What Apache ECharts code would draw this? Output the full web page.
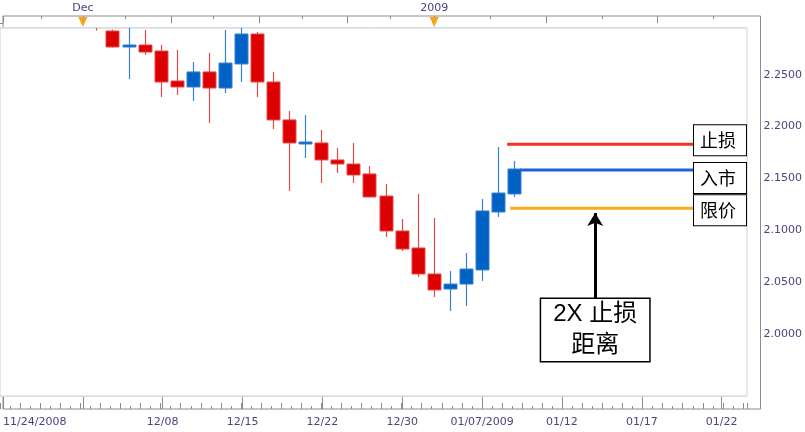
<!DOCTYPE html>
<html><head><meta charset="utf-8">
<script src="https://cdn.jsdelivr.net/npm/echarts@6/dist/echarts.min.js"></script>
<style>html,body{margin:0;padding:0;background:#fff}#c{width:805px;height:432px}</style>
</head><body><div id="c"></div>
<script>
// ---- data (slot = trading-day position on the time axis) ----
const candleSlots = [6,7,8,9,10,11,12,13,14,15,16,17,18,19,20,21,22,23,24,25,26,27,28,29,30,31,32];
const opens  = [2.3180,2.2921,2.2774,2.2786,2.2728,2.2439,2.2381,2.2526,2.2371,2.2603,2.2892,2.2429,2.2063,2.1838,2.1841,2.1677,2.1638,2.1542,2.1329,2.0992,2.0828,2.0577,2.0432,2.0480,2.0616,2.1175,2.1349];
const closes = [2.3020,2.2767,2.2779,2.2718,2.2429,2.2381,2.2526,2.2371,2.2612,2.2892,2.2429,2.2063,2.1841,2.1843,2.1677,2.1638,2.1532,2.1320,2.0992,2.0818,2.0577,2.0423,2.0480,2.0625,2.1185,2.1358,2.1590];
const lows   = [2.2925,2.2762,2.2458,2.2690,2.2284,2.2304,2.2246,2.2034,2.2323,2.2429,2.2284,2.1976,2.1378,2.1696,2.1455,2.1551,2.1455,2.1315,2.0934,2.0799,2.0548,2.0355,2.0220,2.0268,2.0509,2.1127,2.1320];
const highs  = [2.3250,2.2935,2.3000,2.2931,2.2786,2.2738,2.2622,2.2709,2.2931,2.3000,2.2911,2.2526,2.2149,2.2111,2.1966,2.1792,2.1841,2.1619,2.1445,2.1107,2.1349,2.1117,2.0606,2.0779,2.1300,2.1802,2.1667];

const bottomTickSlots  = [0,5,10,15,20,25,30,35,40,45];
const bottomTickLabels = ['11/24/2008','','12/08','12/15','12/22','12/30','01/07/2009','01/12','01/17','01/22'];
const topLabelSlots = [5,27];
const topLabels = ['Dec','2009'];
const topLongTickSlots  = [0,5.04,10.52,16.06,21.54,27.02,34.0,40.97];
const topShortTickSlots = [2.55,7.78,13.26,18.8,24.28,30.5,37.48,44.4];
const priceLabelMin = 2.00, priceLabelMax = 2.25;

const levelNames = ['止损','入市','限价'];
const levelValues = [2.1828,2.1580,2.1211];
const levelStartSlots = [31.57,32.38,31.76];
const levelEndSlot = 43.2;

const annotationText = '2X 止损\n距离';
const arrowSlot = 37.05;
const arrowTip = 2.1165;
const arrowBase = 2.0336;
const annotationCenter = 2.0037;

// ---- layout / style ----
const W = 805, H = 432;
const plot = {left:0, right:58, top:28, bottom:36};
const frame = {left:0, right:43, top:16, bottom:23};
const yMin = 1.94, yMax = 2.295;
const slotMax = 46.5;
const pxPerSlot = (W - plot.left - plot.right) / slotMax;
const pxPerUnit = (H - plot.top - plot.bottom) / (yMax - yMin);
const frameSlotMax = (W - frame.left - frame.right) / pxPerSlot;
const frameYMax = yMax + (plot.top - frame.top) / pxPerUnit;
const frameYMin = yMin - (plot.bottom - frame.bottom) / pxPerUnit;
const markerValue = frameYMax - 6 / pxPerUnit;
// fine-tick grid: same scale as the plot, range extended to round values
const fineYMin = 1.93, fineYMax = 2.305;
const fine = {left:plot.left, right:plot.right,
  top: plot.top - (fineYMax - yMax) * pxPerUnit,
  bottom: plot.bottom - (yMin - fineYMin) * pxPerUnit};

const labelColor = '#46467e';
const axisFont = 'DejaVu Sans, Verdana, sans-serif';
const tickColor = '#8c8c8c';
const gridLine = {show:true, lineStyle:{color:'#e6e6e6', width:2}};
const levelColors = ['#ee3322','#1f60d6','#ffa620'];
const levelOffsets = [-4, 8, 2];
const upFill = '#0062c4', upLine = '#3580d2';
const downFill = '#dd0000', downLine = '#e64848';
const candleWidth = 13;

function renderCandle(params, api) {
  const x = api.value(0), o = api.value(1), c = api.value(2), l = api.value(3), h = api.value(4);
  const pO = api.coord([x, o]), pC = api.coord([x, c]);
  const pL = api.coord([x, l]), pH = api.coord([x, h]);
  const up = c >= o;
  const cx = Math.round(pO[0]) + 0.5;
  const top = Math.min(pO[1], pC[1]), bot = Math.max(pO[1], pC[1]);
  const hgt = Math.max(bot - top, 2);
  const fill = up ? upFill : downFill, line = up ? upLine : downLine;
  return {type:'group', children:[
    {type:'line', shape:{x1:cx, y1:pH[1], x2:cx, y2:pL[1]}, style:{stroke:line, lineWidth:1.2}},
    {type:'rect', shape:{x:Math.round(cx - candleWidth/2), y:(top + bot)/2 - hgt/2, width:candleWidth, height:hgt},
     style:{fill:fill, stroke:line, lineWidth:1}}
  ]};
}

const tickStyle = {lineStyle:{color:tickColor}};
const noAxisParts = {axisLine:{show:false}, axisLabel:{show:false}, axisTick:{show:false}, splitLine:{show:false}};
const chart = echarts.init(document.getElementById('c'), null, {renderer:'canvas'});
const option = {
  animation: false,
  backgroundColor: '#fff',
  grid: [
    Object.assign({show:true, backgroundColor:'#fff', borderColor:'#c9d1de', borderWidth:1, z:1}, plot),
    Object.assign({show:true, backgroundColor:'transparent', borderColor:tickColor, borderWidth:1, z:0}, frame),
    Object.assign({show:false}, fine)
  ],
  xAxis: [
    // 0: plot top: vertical grid lines every 5 slots + short top ticks
    Object.assign({}, noAxisParts, {gridIndex:0, type:'value', min:0, max:slotMax, interval:5, position:'top', offset:plot.top - frame.top,
      axisTick:Object.assign({show:true, inside:true, length:3, customValues:topShortTickSlots}, tickStyle),
      splitLine:gridLine}),
    // 1: plot bottom: short ticks
    Object.assign({}, noAxisParts, {gridIndex:0, type:'value', min:0, max:slotMax, interval:0.625, position:'bottom', offset:plot.bottom - frame.bottom,
      axisTick:Object.assign({show:true, inside:true, length:3}, tickStyle)}),
    // 2: frame bottom: major ticks + date labels
    {gridIndex:1, type:'value', min:0, max:frameSlotMax, interval:5, position:'bottom',
     axisLine:{show:false},
     axisTick:Object.assign({show:true, inside:true, length:12}, tickStyle),
     axisLabel:{margin:8, color:labelColor, fontSize:11, fontFamily:axisFont, alignMinLabel:'left',
       formatter: v => { const i = bottomTickSlots.indexOf(v); return i < 0 ? '' : bottomTickLabels[i]; }},
     splitLine:{show:false}},
    // 3: frame top: long ticks + Dec / 2009
    {gridIndex:1, type:'value', min:0, max:frameSlotMax, position:'top',
     axisLine:{show:false},
     axisTick:Object.assign({show:true, inside:true, length:7, customValues:topLongTickSlots}, tickStyle),
     axisLabel:{customValues:topLabelSlots, margin:2, color:labelColor, fontSize:11, fontFamily:axisFont,
       formatter: v => { const i = topLabelSlots.indexOf(v); return i < 0 ? '' : topLabels[i]; }},
     splitLine:{show:false}},
    // 4: fine grid bottom: mid-length ticks
    Object.assign({}, noAxisParts, {gridIndex:2, type:'value', min:0, max:slotMax, interval:1.25, position:'bottom',
      offset: fine.bottom - frame.bottom,
      axisTick:Object.assign({show:true, inside:true, length:6}, tickStyle)})
  ],
  yAxis: [
    Object.assign({}, noAxisParts, {gridIndex:0, type:'value', min:yMin, max:yMax, splitNumber:7, position:'right', splitLine:gridLine}),
    {gridIndex:1, type:'value', position:'right', min:frameYMin, max:frameYMax, splitNumber:7,
     axisLine:{show:false},
     axisTick:Object.assign({show:true, inside:true, length:8}, tickStyle),
     axisLabel:{showMinLabel:false, showMaxLabel:false, margin:3, color:labelColor, fontSize:11, fontFamily:axisFont,
       formatter: v => (v < priceLabelMin - 1e-6 || v > priceLabelMax + 1e-6) ? '' : v.toFixed(4)},
     splitLine:{show:false}},
    Object.assign({}, noAxisParts, {gridIndex:2, type:'value', min:fineYMin, max:fineYMax, interval:0.005, position:'right',
      offset: fine.right - frame.right,
      axisTick:Object.assign({show:true, inside:true, length:4}, tickStyle)})
  ],
  series: [
    {type:'custom', xAxisIndex:0, yAxisIndex:0, clip:true, z:2,
     renderItem: renderCandle,
     encode:{x:0, y:[1,2,3,4]},
     data: candleSlots.map((s,i) => [s, opens[i], closes[i], lows[i], highs[i]])},
    ...levelValues.map((v,i) => ({
      type:'line', name:levelNames[i], xAxisIndex:0, yAxisIndex:0, symbol:'none', z:3,
      data:[[levelStartSlots[i], v],[levelEndSlot, v]],
      lineStyle:{color:levelColors[i], width:3},
      endLabel:{show:true, formatter:levelNames[i], distance:0, offset:[0, levelOffsets[i]],
        color:'#000', fontSize:18, lineHeight:20, fontFamily:'Noto Sans CJK SC',
        backgroundColor:'#fff', borderColor:'#000', borderWidth:1, padding:[5,10,5,6]}
    })),
    {type:'line', xAxisIndex:0, yAxisIndex:0, data:[], z:5,
     markLine:{silent:true, symbol:['none','arrow'], symbolSize:[12,13], label:{show:false},
       lineStyle:{color:'#000', width:3, type:'solid'},
       data:[[{coord:[arrowSlot, arrowBase]},{coord:[arrowSlot, arrowTip]}]]},
     markPoint:{silent:true, data:[{coord:[arrowSlot, annotationCenter], symbol:'rect', symbolSize:1,
       itemStyle:{color:'rgba(0,0,0,0)'},
       label:{show:true, position:'inside', formatter:annotationText, color:'#000', fontSize:24, lineHeight:31,
         fontFamily:'Liberation Sans, Noto Sans CJK SC', backgroundColor:'#fff', borderColor:'#000', borderWidth:1.5,
         padding:[0,12], align:'center', verticalAlign:'middle'}}]}},
    {type:'line', xAxisIndex:3, yAxisIndex:1, data:[], z:5,
     markPoint:{silent:true, symbol:'triangle', symbolRotate:180, symbolSize:[9,10],
       itemStyle:{color:'#f7a21b'}, label:{show:false},
       data: topLabelSlots.map(s => ({coord:[s, markerValue]}))}}
  ]
};
chart.setOption(option);
</script></body></html>
